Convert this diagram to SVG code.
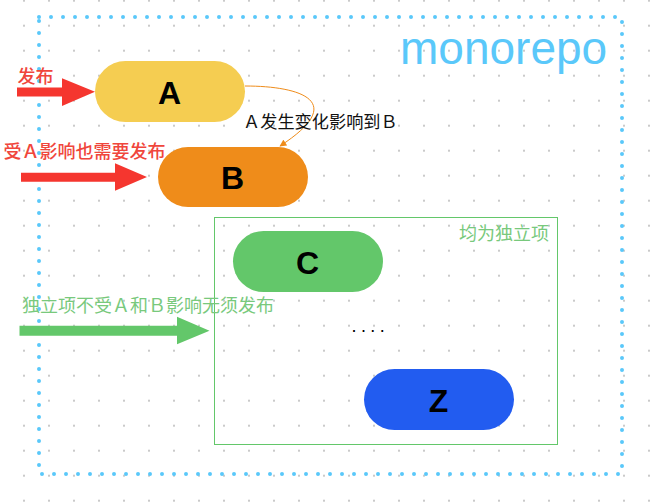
<svg xmlns="http://www.w3.org/2000/svg" width="655" height="503" viewBox="0 0 655 503">
<defs>
<pattern id="grid" patternUnits="userSpaceOnUse" x="23" y="-0.3" width="25" height="25">
<rect x="0" y="0" width="2" height="2" fill="#cacaca"/>
</pattern>
<marker id="ah" viewBox="0 0 10 10" refX="9" refY="5" markerWidth="7" markerHeight="7" orient="auto" markerUnits="userSpaceOnUse">
<path d="M0,0 L10,5 L0,10 z" fill="#ef8c1a"/>
</marker>
<style>
.pill-label{font-family:"Liberation Sans",Arial,sans-serif;font-size:32px;font-weight:bold;fill:#000;text-anchor:middle}
.cjk{font-family:"Noto Sans CJK SC","Liberation Sans",sans-serif;font-size:18px}
.red{fill:#f0463c;font-weight:500}
.green{fill:#78c97c}
.dark{fill:#111;font-size:17.2px}
</style>
</defs>
<rect width="655" height="503" fill="#fff"/>
<rect width="655" height="503" fill="url(#grid)"/>

<g id="monorepo">
<rect x="39" y="17" width="583" height="457" fill="none" stroke="#5ac8fa" stroke-width="4" stroke-linecap="round" stroke-dasharray="0 12"/>
<text x="400" y="64" font-family="'Liberation Sans',Arial,sans-serif" font-size="46" fill="#5ac8fa">monorepo</text>
</g>

<g id="independent-group">
<rect x="214.5" y="217.5" width="343" height="227" fill="none" stroke="#63c76a" stroke-width="1"/>
<text class="cjk green" x="549" y="240" text-anchor="end">均为独立项</text>
</g>

<g id="node-A">
<rect x="95" y="61" width="150" height="61" rx="30.5" fill="#f5cd51"/>
<text class="pill-label" x="169.5" y="104">A</text>
</g>
<g id="node-B">
<rect x="158" y="147" width="150" height="60" rx="30" fill="#ef8c1a"/>
<text class="pill-label" x="232.5" y="189">B</text>
</g>
<g id="node-C">
<rect x="233" y="231" width="150" height="61" rx="30.5" fill="#63c76a"/>
<text class="pill-label" x="307.5" y="274">C</text>
</g>
<g id="node-Z">
<rect x="364" y="369" width="150" height="61" rx="30.5" fill="#225cf0"/>
<text class="pill-label" x="438.5" y="412">Z</text>
</g>
<g id="ellipsis">
<text x="351.5" y="332" font-family="'Liberation Sans',Arial,sans-serif" font-size="18" letter-spacing="4.4" fill="#000">....</text>
</g>

<g id="connectors">
<path d="M17,87.5 H62 V78.3 L95,91.8 L62,106 V96.5 H17 Z" fill="#f5362f"/>
<path d="M21,172.7 H115 V163.3 L147,177 L115,190.7 V181.7 H21 Z" fill="#f5362f"/>
<path d="M19.5,325.7 H177 V316.7 L209.5,330.7 L177,344.3 V335.7 H19.5 Z" fill="#63c76a"/>
<path d="M245,86 C302,86 348,102 280,146" fill="none" stroke="#ef8c1a" stroke-width="1" marker-end="url(#ah)"/>
</g>

<g id="labels">
<text class="cjk red" x="17.5" y="83">发布</text>
<text class="cjk red" x="3.5" y="158">受Ａ影响也需要发布</text>
<text class="cjk dark" x="243" y="128">Ａ发生变化影响到Ｂ</text>
<text class="cjk green" x="22" y="312">独立项不受Ａ和Ｂ影响无须发布</text>
</g>
</svg>
